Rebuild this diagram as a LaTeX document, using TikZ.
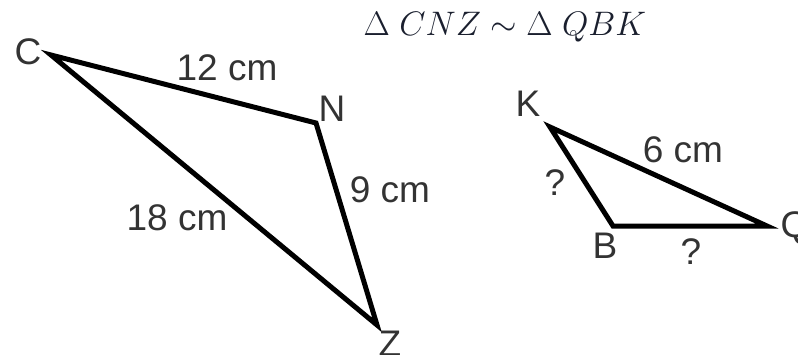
\RequirePackage{fix-cm}
\documentclass[tikz,border=0pt]{standalone}
\usepackage{fontspec}
\setmainfont{Liberation Sans}
\usepackage{tikz}
\definecolor{trigray}{HTML}{333333}
\definecolor{titleink}{HTML}{1A1F2E}
\tikzset{
  triside/.style={line width=5pt,draw=black,line join=miter},
  vertexlabel/.style={font=\fontsize{37}{40}\selectfont,text=trigray,inner sep=0pt},
  sidelabel/.style={font=\fontsize{37}{40}\selectfont,text=trigray,inner sep=0pt},
  titlelabel/.style={font=\fontsize{34}{40}\selectfont,text=titleink,inner sep=0pt}
}
\begin{document}
\begin{tikzpicture}[x=1pt,y=-1pt]
  \useasboundingbox (0,0) rectangle (798,354);
  \clip (0,0) rectangle (798,354);
  % big triangle CNZ
  \coordinate (C) at (51,55);
  \coordinate (N) at (316,123);
  \coordinate (Z) at (377,325);
  % small triangle QBK
  \coordinate (K) at (550,127);
  \coordinate (B) at (613,226);
  \coordinate (Q) at (767,226);

  \draw[triside] (C) -- (N) -- (Z) -- cycle;
  \draw[triside] (K) -- (B) -- (Q) -- cycle;

  \node[titlelabel] (title) at (505,27) {$\Delta\;CNZ\sim\Delta\;QBK$};

  \node[vertexlabel] (lC) at (28,52) {C};
  \node[vertexlabel] (lN) at (332,109) {N};
  \node[vertexlabel] (lZ) at (390,344) {Z};
  \node[vertexlabel] (lK) at (528,104) {K};
  \node[vertexlabel] (lB) at (605,246) {B};
  \node[vertexlabel] (lQ) at (795,228) {Q};

  \node[sidelabel] (sCN) at (227,68) {12 cm};
  \node[sidelabel] (sNZ) at (390,190) {9 cm};
  \node[sidelabel] (sCZ) at (177,218) {18 cm};
  \node[sidelabel] (sKQ) at (683,150) {6 cm};
  \node[sidelabel] (sKB) at (555,183) {?};
  \node[sidelabel] (sBQ) at (691,252) {?};
\end{tikzpicture}
\end{document}
